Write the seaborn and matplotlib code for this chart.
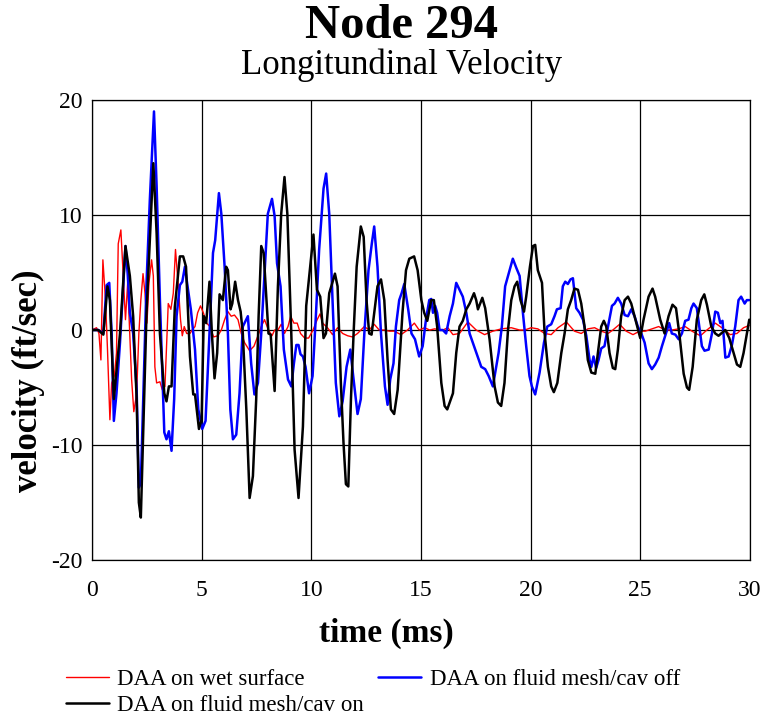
import numpy as np
import pandas as pd
import seaborn as sns
import matplotlib
matplotlib.use('Agg')
import matplotlib.pyplot as plt

# values (time in ms, velocity in ft/sec)
t_wet = [0, 0.21, 0.32, 0.41, 0.5, 0.62, 0.71, 0.82, 0.9, 1.02, 1.12, 1.2, 1.32, 1.43, 1.53,
         1.63, 1.73, 1.81, 1.91, 2.04, 2.14, 2.23, 2.33, 2.42, 2.51, 2.6, 2.72, 2.8, 2.87,
         2.95, 3.1, 3.21, 3.33, 3.48, 3.6, 3.71, 3.81, 3.94, 4.04, 4.12, 4.21, 4.32, 4.47,
         4.57, 4.7, 4.82, 4.95, 5.08, 5.23, 5.38, 5.55, 5.74, 5.9, 6.05, 6.2, 6.35, 6.5,
         6.66, 6.81, 6.96, 7.19, 7.39, 7.57, 7.72, 7.87, 8.05, 8.21, 8.33, 8.48, 8.63, 8.78,
         8.94, 9.06, 9.21, 9.36, 9.51, 9.7, 9.88, 10.08, 10.27, 10.4, 10.52, 10.74, 10.97,
         11.2, 11.43, 11.66, 11.88, 12.11, 12.42, 12.64, 12.87, 13.1, 13.33, 13.56, 13.78,
         14.09, 14.39, 14.7, 14.92, 15.17, 15.4, 15.62, 16.0, 16.23, 16.46, 16.76, 17.14,
         17.52, 17.9, 18.28, 18.66, 19.12, 19.5, 19.73, 20.03, 20.33, 20.64, 20.94, 21.25,
         21.63, 22.0, 22.31, 22.61, 22.92, 23.22, 23.53, 23.75, 24.06, 24.36, 24.67, 24.97,
         25.23, 25.53, 25.84, 26.14, 26.44, 26.75, 27.05, 27.36, 27.74, 28.04, 28.42, 28.72,
         29.1, 29.41, 29.71, 29.97]
v_wet = [0, 0.2, -0.3, -2.6, 6.1, 2.6, -1.7, -7.8, -4.6, -4.0, -2.0, 7.5, 8.7, 4.7, 0.9,
         4.1, -0.5, -4.3, -7.1, -5.5, -0.3, 2.6, 4.9, 3.2, 0.6, 4.1, 6.1, 4.7, -3.2,
         -4.6, -4.5, -5.2, -4.9, 2.3, 1.8, 3.2, 7.0, 3.8, 0.9, -0.5, 0.3, -0.3, -0.3,
         0, 0.3, 1.5, 2.1, 1.5, 0.6, 0.3, -0.6, -0.5, 0, 0.9, 1.6, 1.2, 1.3,
         0.9, -0.3, -1.1, -1.8, -1.4, -0.5, 0.3, 0.9, 0, -0.5, 0, 0, 0.5, -0.3,
         0.3, 1.2, 0.6, 0.6, -0.3, -0.7, -0.7, 0, 0.9, 1.4, 0.6, 0.2, -0.4,
         0.2, -0.3, -0.5, -0.6, -0.3, 0.3, 0, 0.5, 0, 0, -0.1, -0.1,
         -0.4, 0, 0.6, 0, 0.2, 0, 0.1, 0, 0.2, -0.4, -0.3, 0.7,
         0, -0.4, -0.1, 0.1, 0.2, 0, 0, 0.2, 0.1, -0.3, -0.4, 0.2,
         0.7, -0.1, -0.3, 0.1, 0.2, -0.1, -0.3, 0, 0.5, -0.1, -0.4, -0.1,
         -0.1, 0.1, 0.3, 0, 0, 0.1, 0.3, -0.1, -0.5, 0, 0.6, 0.2,
         -0.4, -0.3, 0.2, 0.4]

t_off = [0, 0.29, 0.52, 0.67, 0.79, 0.9, 1.0, 1.12, 1.28, 1.4, 1.53, 1.63, 1.73, 1.88, 2.04,
         2.14, 2.23, 2.34, 2.49, 2.64, 2.83, 2.95, 3.1, 3.21, 3.3, 3.4, 3.51, 3.63, 3.75,
         3.86, 4.01, 4.12, 4.24, 4.36, 4.51, 4.7, 4.85, 5.03, 5.18, 5.36, 5.52, 5.62, 5.79,
         5.9, 6.05, 6.2, 6.31, 6.43, 6.58, 6.73, 6.88, 7.11, 7.26, 7.41, 7.57, 7.72, 7.87,
         8.02, 8.21, 8.33, 8.44, 8.6, 8.75, 8.94, 9.09, 9.21, 9.32, 9.42, 9.51, 9.62, 9.74,
         9.9, 10.06, 10.21, 10.36, 10.56, 10.68, 10.82, 10.97, 11.12, 11.28, 11.43, 11.61,
         11.78, 11.93, 12.11, 12.26, 12.42, 12.61, 12.76, 12.87, 13.02, 13.18, 13.36, 13.48,
         13.6, 13.75, 13.86, 14.01, 14.12, 14.24, 14.42, 14.57, 14.73, 14.92, 15.08, 15.23,
         15.38, 15.47, 15.55, 15.65, 15.74, 15.85, 16.0, 16.15, 16.31, 16.46, 16.61, 16.76,
         16.91, 17.07, 17.22, 17.42, 17.6, 17.75, 17.93, 18.09, 18.28, 18.43, 18.54, 18.69,
         18.84, 19.0, 19.19, 19.35, 19.5, 19.65, 19.8, 19.95, 20.06, 20.21, 20.41, 20.61,
         20.76, 20.94, 21.09, 21.2, 21.37, 21.47, 21.58, 21.7, 21.82, 21.93, 22.08, 22.23,
         22.39, 22.54, 22.69, 22.77, 22.87, 22.99, 23.1, 23.22, 23.37, 23.53, 23.71, 23.83,
         23.98, 24.13, 24.29, 24.44, 24.59, 24.74, 24.89, 25.05, 25.2, 25.38, 25.53, 25.68,
         25.84, 25.99, 26.17, 26.32, 26.44, 26.6, 26.75, 26.9, 27.05, 27.2, 27.33, 27.43,
         27.58, 27.69, 27.81, 27.93, 28.12, 28.27, 28.42, 28.54, 28.65, 28.75, 28.88, 29.03,
         29.18, 29.33, 29.48, 29.6, 29.76, 29.86, 29.97]
v_off = [0, 0, -0.3, 3.9, 4.1, -0.3, -7.9, -5.5, -1.1, 2.9, 7.3, 4.9, 1.5, -0.3, -5.2,
         -13.7, -13.3, -6.0, 4.1, 11.3, 19.0, 12.5, 2.6, -3.7, -8.9, -9.5, -8.8, -10.5, -6.0,
         1.2, 3.9, 4.2, 5.5, 3.8, 1.8, -1.7, -6.9, -8.6, -7.9, -0.3, 6.7, 7.8, 11.9,
         10.1, 5.5, -0.3, -6.9, -9.5, -9.1, -5.5, 0.3, 1.2, -2.9, -5.6, -4.6, -0.3, 4.9,
         10.1, 11.4, 9.9, 5.8, 3.8, -1.7, -4.3, -4.9, -2.9, -1.3, -1.3, -2.1, -2.3, -3.2,
         -5.5, -4.0, 1.2, 7.0, 12.3, 13.6, 10.1, 2.6, -4.6, -7.5, -6.2, -3.2,
         -1.7, -4.3, -7.3, -6.0, -0.3, 5.2, 7.5, 9.0, 5.5, -0.3, -4.9, -6.5,
         -4.3, -2.9, 0.3, 2.6, 3.2, 4.0, 1.8, -0.3, -0.8, -2.3, -1.4, 0.9,
         2.6, 2.7, 1.5, 2.1, 1.5, 0, 0, -0.3, 1.2, 2.3, 4.1, 3.5,
         2.9, 1.5, -0.3, -1.4, -2.4, -3.2, -3.4, -4.0, -4.9, -3.2, -2.0, 0.3,
         3.8, 4.9, 6.2, 5.4, 4.7, 1.5, -1.4, -4.0, -4.9, -5.6, -3.7, -1.1,
         0.3, 0.5, 1.2, 1.8, 1.9, 3.8, 4.2, 4.0, 4.4, 4.5, 1.9, 1.5,
         0.9, -0.5, -2.6, -3.2, -2.3, -3.3, -2.6, -1.6, -1.4, 0.3, 2.1, 2.3,
         2.8, 2.3, 1.3, 1.2, 1.8, 1.2, 0.3, -0.3, -1.1, -2.9, -3.4, -3.0,
         -2.4, -1.4, -0.3, 0.6, -0.3, -0.4, -0.8, -0.3, 0.8, 0.9, 1.9, 2.3,
         1.9, 0.3, -1.4, -1.8, -1.7, -0.3, 1.6, 1.5, 0.6, 0.8, -2.4, -2.3,
         -1.3, 0.3, 2.6, 2.9, 2.3, 2.6, 2.6]

t_on = [0, 0.29, 0.52, 0.71, 0.82, 1.0, 1.28, 1.53, 1.73, 1.88, 2.04, 2.14, 2.23, 2.34,
        2.49, 2.64, 2.8, 2.95, 3.1, 3.3, 3.4, 3.51, 3.63, 3.78, 4.01, 4.16, 4.29, 4.47,
        4.62, 4.7, 4.88, 5.0, 5.1, 5.21, 5.36, 5.47, 5.59, 5.71, 5.82, 5.97, 6.12, 6.2,
        6.32, 6.4, 6.53, 6.66, 6.78, 6.88, 7.04, 7.19, 7.34, 7.49, 7.6, 7.72, 7.83, 7.95,
        8.05, 8.15, 8.33, 8.48, 8.63, 8.78, 8.91, 9.09, 9.24, 9.42, 9.62, 9.77, 9.92, 10.1,
        10.26, 10.41, 10.56, 10.67, 10.82, 10.93, 11.08, 11.2, 11.35, 11.47, 11.58, 11.69,
        11.81, 11.93, 12.07, 12.26, 12.39, 12.52, 12.64, 12.75, 12.87, 13.02, 13.18, 13.33,
        13.48, 13.63, 13.78, 13.94, 14.16, 14.32, 14.47, 14.69, 14.85, 15.02, 15.15, 15.29,
        15.47, 15.59, 15.74, 15.93, 16.08, 16.2, 16.46, 16.61, 16.76, 16.91, 17.07, 17.22,
        17.42, 17.52, 17.6, 17.8, 17.93, 18.13, 18.36, 18.51, 18.66, 18.81, 18.97, 19.12,
        19.27, 19.39, 19.54, 19.7, 19.8, 19.97, 20.11, 20.21, 20.33, 20.52, 20.64, 20.79,
        20.94, 21.06, 21.22, 21.4, 21.55, 21.7, 21.85, 22.0, 22.16, 22.31, 22.46, 22.61,
        22.77, 22.95, 23.07, 23.22, 23.34, 23.45, 23.6, 23.75, 23.86, 23.98, 24.13, 24.29,
        24.44, 24.59, 24.74, 25.0, 25.15, 25.38, 25.56, 25.68, 25.91, 26.11, 26.29, 26.47,
        26.63, 26.78, 26.98, 27.13, 27.23, 27.39, 27.58, 27.78, 27.92, 28.04, 28.24, 28.42,
        28.57, 28.69, 28.88, 29.06, 29.26, 29.41, 29.56, 29.71, 29.86, 29.97]
v_on = [0, 0, -0.4, 3.8, 2.6, -6.0, -0.3, 7.3, 4.7, 1.2, -6.0, -15.0, -16.3, -8.9,
        1.5, 7.8, 14.5, 8.4, -0.3, -5.5, -6.2, -4.9, -4.9, 2.0, 6.4, 6.4, 5.5, -2.3,
        -5.6, -5.6, -8.6, -7.8, 1.2, 0.6, 4.2, -0.3, -4.2, -2.0, 3.1, 2.6, 5.5, 5.2,
        1.8, 2.3, 4.2, 2.6, 1.6, -0.3, -6.9, -14.6, -12.7, -6.0, 1.2, 7.3, 6.7, 2.9,
        -0.3, -0.4, -5.3, 3.8, 10.1, 13.3, 10.1, -0.3, -10.4, -14.6, -8.4, 2.1, 4.9, 8.3,
        3.5, 2.9, -0.7, -0.3, 3.2, 3.9, 4.9, 3.8, -4.6, -9.8, -13.4, -13.6,
        -6.0, -0.3, 5.5, 9.0, 8.1, 2.6, -0.3, -0.4, 1.5, 3.8, 4.4, 2.6,
        -2.6, -6.9, -7.3, -5.2, 1.5, 5.2, 6.2, 6.4, 5.2, 2.6, 1.5, 0.8,
        2.6, 2.6, 0.3, -4.6, -6.6, -6.9, -5.5, -2.0, 0.3, 0.8, 1.8, 2.3,
        3.2, 2.6, 1.8, 2.8, 1.9, -0.8, -4.9, -6.3, -6.6, -4.6, 0, 2.6,
        3.8, 4.2, 2.6, 1.6, 2.9, 5.5, 7.3, 7.4, 5.2, 4.1, -0.3, -3.2,
        -4.9, -5.4, -4.6, -2.0, -0.3, 1.8, 2.6, 3.6, 3.5, 2.3, 0.3, -2.6,
        -3.7, -3.8, -2.0, 0.3, 0.8, 0.3, -2.0, -3.3, -3.4, -1.7, 1.2, 2.6,
        2.9, 2.3, 1.2, -0.7, 0.9, 2.9, 3.6, 2.9, 0.9, -0.3, 1.2, 2.2,
        1.9, -0.3, -3.8, -5.0, -5.2, -3.2, 0.9, 2.6, 3.1, 2.2, 0.3, -0.3,
        -0.5, -0.3, 0, -0.7, -2.0, -3.0, -3.2, -2.0, -0.3, 0.9]

labels = ['DAA on wet surface', 'DAA on fluid mesh/cav off', 'DAA on fluid mesh/cav on']
colors = ['#ff0000', '#0000ff', '#000000']
widths = [1.0, 1.8, 1.8]

df = pd.concat([
    pd.DataFrame({'time': t_wet, 'velocity': v_wet, 'series': labels[0]}),
    pd.DataFrame({'time': t_off, 'velocity': v_off, 'series': labels[1]}),
    pd.DataFrame({'time': t_on, 'velocity': v_on, 'series': labels[2]}),
], ignore_index=True)

sns.set_style('white')
plt.rcParams['font.family'] = ['Liberation Serif', 'DejaVu Serif']
plt.rcParams['axes.unicode_minus'] = False
plt.rcParams['text.color'] = 'black'

fig = plt.figure(figsize=(7.66, 7.19), dpi=100)
ax = fig.add_axes([0.120, 0.221, 0.859, 0.640])

for lab, col, lw in zip(labels, colors, widths):
    sns.lineplot(data=df[df['series'] == lab], x='time', y='velocity', color=col,
                 linewidth=lw, ax=ax, label=lab, sort=False, estimator=None)
h, l = ax.get_legend_handles_labels()
ax.get_legend().remove()

ax.set_xlim(0, 30)
ax.set_ylim(-20, 20)
ax.set_xticks(np.arange(0, 31, 5))
ax.set_yticks(np.arange(-20, 21, 10))
ax.grid(True, color='black', linewidth=0.9)
ax.set_axisbelow(True)
for s in ax.spines.values():
    s.set_color('black')
    s.set_linewidth(0.9)
ax.tick_params(axis='both', direction='out', length=5, width=0.9, color='black',
               labelsize=17, labelcolor='black')
ax.tick_params(axis='x', pad=9)
ax.tick_params(axis='y', pad=2)
ax.set_xlabel('')
ax.set_ylabel('')

fig.text(0.524, 0.9475, 'Node 294', ha='center', va='baseline', fontsize=35,
         fontweight='bold', color='black')
fig.text(0.524, 0.897, 'Longitundinal Velocity', ha='center', va='baseline',
         fontsize=25, color='black')
fig.text(0.504, 0.108, 'time (ms)', ha='center', va='baseline', fontsize=24,
         fontweight='bold', color='black')
fig.text(0.037, 0.47, 'velocity (ft/sec)', ha='center', va='center', rotation=90,
         fontsize=25, fontweight='bold', color='black')

# column-first fill: red/black in first column, blue in second
fig.legend([h[0], h[2], h[1]], [l[0], l[2], l[1]], ncol=2, frameon=False,
           loc='upper left', bbox_to_anchor=(0.086, 0.070), fontsize=16.5,
           handlelength=1.9, handletextpad=0.35, columnspacing=0.6, labelspacing=0.25,
           borderpad=0, borderaxespad=0, labelcolor='black')

fig.savefig('out.png', dpi=100)
